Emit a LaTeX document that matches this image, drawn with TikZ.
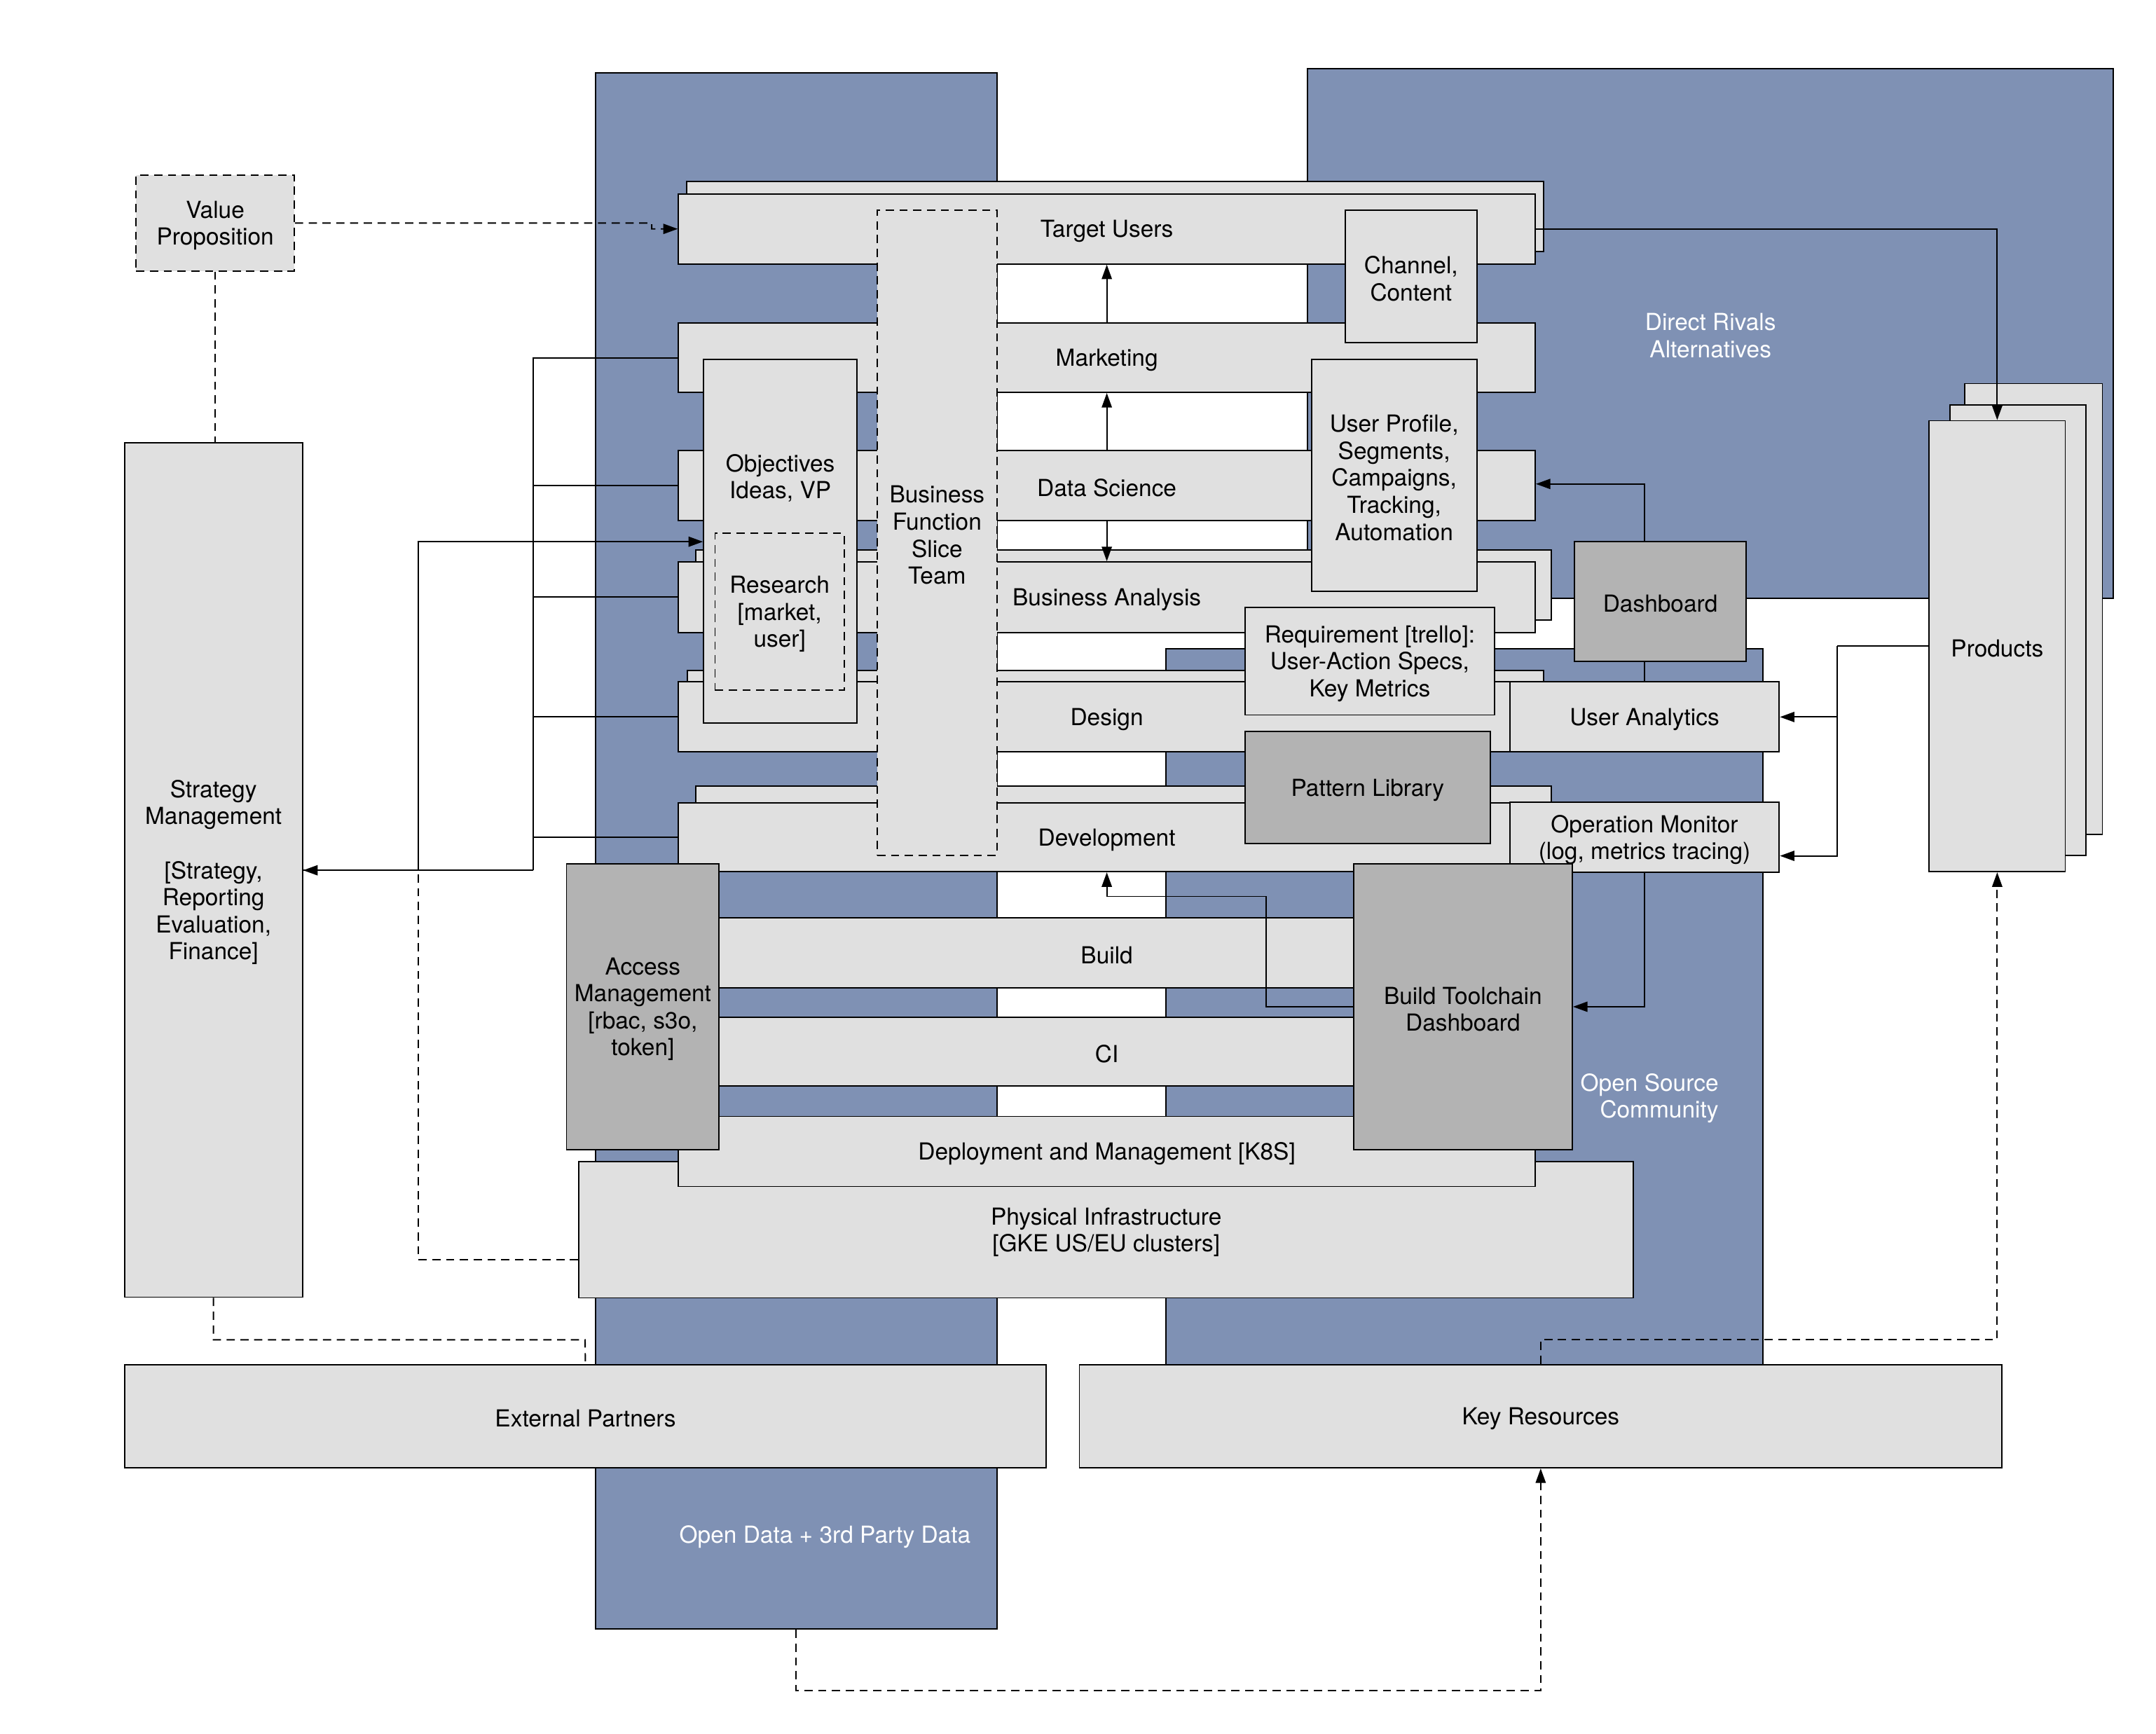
\documentclass[tikz,border=0pt]{standalone}
\usepackage{fontspec}
\setmainfont{TeX Gyre Heros}
\usetikzlibrary{arrows.meta,fit}
\definecolor{bgblue}{HTML}{7F91B4}
\definecolor{lgray}{HTML}{E0E0E0}
\definecolor{dgray}{HTML}{B3B3B3}
\begin{document}
\begin{tikzpicture}[x=0.02cm,y=-0.02cm,
  every node/.style={font=\fontsize{9.7}{11.2}\selectfont, align=center},
  every label/.style={yshift=-1pt},
  tshift/.style={yshift=-1pt},
  box/.style={draw=black, fill=lgray, line width=0.55pt, inner sep=0pt, rectangle},
  darkbox/.style={box, fill=dgray},
  dashbox/.style={box, dash pattern=on 3.4pt off 2.3pt},
  bluezone/.style={draw=black, fill=bgblue, line width=0.55pt, inner sep=0pt, rectangle},
  wtxt/.style={text=white},
  conn/.style={draw=black, line width=0.55pt},
  arr/.style={conn, -{Triangle[length=6pt,width=4.2pt]}},
  dashln/.style={conn, dash pattern=on 3.4pt off 2.3pt},
  dasharr/.style={dashln, -{Triangle[length=6pt,width=4.2pt]}},
]
\useasboundingbox (0,0) rectangle (1568,1261);

% blue zones
\node[bluezone, fit={(433,53) (725,1185)}] (od) {};
\node[bluezone, fit={(951,50) (1537,435)}, label={[name=drT, wtxt]center:{Direct Rivals\\Alternatives}}] (dr) {};
\node[bluezone, fit={(848,472) (1282,993)}] (osc) {};
\node[wtxt, tshift] (odt) at (600,1116) {Open Data + 3rd Party Data};
\node[wtxt, tshift, align=right, anchor=east] (osct) at (1256,797) {Open Source\\Community};

% left column
\node[dashbox, fit={(99,127.5) (214,197)}, label={[name=vpT]center:{Value\\Proposition}}] (vp) {};
\node[box, fit={(90.5,322) (220,943.5)}, label={[name=stratT]center:{Strategy\\Management\\[11.2pt]{[}Strategy,\\Reporting\\Evaluation,\\Finance]}}] (strat) {};

% stacked layers
\node[box, fit={(499.5,132) (1122.6,183)}] (tub) {};
\node[box, fit={(493.4,141) (1116.5,192)}, label={[name=tuT]center:Target Users}] (tu) {};
\node[box, fit={(493.4,235) (1116.5,285.4)}, label={[name=mktT]center:Marketing}] (mkt) {};
\node[box, fit={(493.4,327.7) (1116.5,378.6)}, label={[name=dsT]center:Data Science}] (ds) {};
\node[box, fit={(506,400) (1128,451)}] (bab) {};
\node[box, fit={(493.4,408.7) (1116.5,460)}, label={[name=baT]center:Business Analysis}] (ba) {};
\node[box, fit={(500,487.5) (1122.7,538)}] (desb) {};
\node[box, fit={(493.4,496) (1116.5,547)}, label={[name=desT]center:Design}] (des) {};
\node[box, fit={(506,571.6) (1128,622)}] (devb) {};
\node[box, fit={(493.4,584) (1116.5,634)}, label={[name=devT]center:Development}] (dev) {};
\node[box, fit={(493.4,667.6) (1116.5,718.6)}, label={[name=bldT]center:Build}] (bld) {};
\node[box, fit={(493.4,740) (1116.5,790)}, label={[name=ciT]center:CI}] (ci) {};
\node[box, fit={(421,845) (1188,944)}, label={[name=physT]center:{Physical Infrastructure\\{[}GKE US/EU clusters]}}] (phys) {};
\node[box, fit={(493.4,812) (1116.5,863)}, label={[name=depT]center:{Deployment and Management [K8S]}}] (dep) {};

% objectives / research / business function
\node[box, fit={(511.7,261.4) (623,526)}] (obj) {};
\node[tshift] (objT) at (567.5,346) {Objectives\\Ideas, VP};
\node[dashbox, fit={(520,388) (614,502)}, label={[name=resT]center:{Research\\{[}market,\\user]}}] (res) {};
\node[dashbox, fit={(638,153) (725,622)}, label={[name=bfT]center:{Business\\Function\\Slice\\Team}}] (bf) {};

% right side boxes
\node[box, fit={(978.4,153) (1074,249)}, label={[name=chanT]center:{Channel,\\Content}}] (chan) {};
\node[box, fit={(953.8,261.4) (1074,430)}, label={[name=upT]center:{User Profile,\\Segments,\\Campaigns,\\Tracking,\\Automation}}] (up) {};
\node[box, fit={(905.6,442) (1086.8,520)}, label={[name=reqT]center:{Requirement [trello]:\\User-Action Specs,\\Key Metrics}}] (req) {};
\node[darkbox, fit={(905.6,532) (1083.7,613.6)}, label={[name=patT]center:Pattern Library}] (pat) {};
\node[darkbox, fit={(1145,394) (1270,481)}, label={[name=dashT]center:Dashboard}] (dash) {};
\node[box, fit={(1098,496) (1294,547)}, label={[name=uaT]center:User Analytics}] (ua) {};
\node[box, fit={(1098,583.5) (1294,634.5)}, label={[name=omT]center:{Operation Monitor\\(log, metrics tracing)}}] (om) {};

% dark boxes bottom
\node[darkbox, fit={(412,628.5) (523,836)}, label={[name=accT]center:{Access\\Management\\{[}rbac, s3o,\\token]}}] (acc) {};
\node[darkbox, fit={(984.4,628.5) (1143.5,836)}, label={[name=btdT]center:{Build Toolchain\\Dashboard}}] (btd) {};

% products stack
\node[box, fit={(1429,279) (1529,607)}] (prodb) {};
\node[box, fit={(1418,294.5) (1517,622)}] (prodm) {};
\node[box, fit={(1403,306) (1502,634)}, label={[name=prodT]center:Products}] (prod) {};

% bottom boxes
\node[box, fit={(90.5,992.5) (761,1067.6)}, label={[name=extT]center:External Partners}] (ext) {};
\node[box, fit={(785,992.5) (1456,1067.6)}, label={[name=krT]center:Key Resources}] (kr) {};

% ---------- connectors ----------
\coordinate (vpk) at (474,166.5);
\draw[dasharr] (vp.east) -| (vpk) -- (tu.west);
\draw[dashln] (vp.south) -- (vp.south |- strat.north);

\coordinate (busb) at (388,633);
\draw[arr] (busb) -- (strat.east |- busb);
\foreach \n in {mkt,ds,ba,des,dev} \draw[conn] (\n.west) -| (busb);

\coordinate (sk) at (304,394);
\draw[arr] (strat.east |- busb) -| (sk) -- (sk -| obj.west);

\coordinate (pk) at (304,633);
\coordinate (pk2) at (304,916);
\draw[dashln] (phys.west |- pk2) -- (pk2) -- (pk);

\coordinate (sek) at (425.5,974.5);
\draw[dashln] (strat.south) |- (sek) -- (ext.north);

\coordinate (kpk) at (1452.5,974.5);
\draw[dasharr] (kr.north) |- (kpk) -- (prod.south);

\coordinate (odk) at (1120.5,1229.5);
\draw[dasharr] (od.south) |- (odk) -- (kr.south);

\draw[arr] (tu.east) -| (prod.north);
\draw[arr] (mkt.north) -- (tu.south);
\draw[arr] (ds.north) -- (mkt.south);
\draw[arr] (ds.south) -- (ba.north);

\coordinate (dk) at (1196,352);
\draw[arr] (dk |- dash.north) -- (dk) -- (dk -| ds.east);
\draw[conn] (dash.south -| ua.north) -- (ua.north);

\coordinate (pb) at (1336,470);
\coordinate (pb2) at (1336,622.5);
\draw[conn] (prod.west |- pb) -- (pb);
\draw[arr] (pb) |- (ua.east);
\draw[arr] (pb) -- (pb2) -- (pb2 -| om.east);

\draw[arr] (om.south) |- (btd.east);

\coordinate (bk1) at (921,652);
\draw[arr] (btd.west) -| (bk1) -| (dev.south);
\end{tikzpicture}
\end{document}
